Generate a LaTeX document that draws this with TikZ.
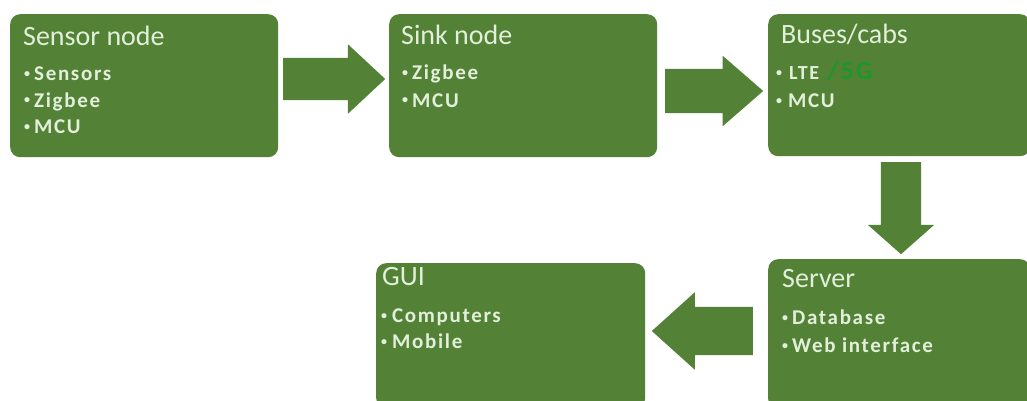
\documentclass[tikz,border=0pt]{standalone}
\usepackage{fontspec}
\setmainfont{Carlito}
\usetikzlibrary{shapes.arrows}
\definecolor{boxgreen}{HTML}{538135}
\definecolor{boxtext}{HTML}{E2EFDA}
\definecolor{fivegreen}{RGB}{30,150,45}

% small raised bullet in front of each list entry
\newcommand{\bulletdot}{\raisebox{3pt}{\fontsize{12}{12}\selectfont\textbullet}\hspace{4pt}}

\begin{document}
\begin{tikzpicture}[x=1pt,y=-1pt,
  panel/.style={fill=boxgreen, draw=none, rounded corners=10pt,
    anchor=north west, inner sep=0pt},
  heading/.style={anchor=base west, inner sep=0pt, text=boxtext,
    font=\fontsize{28}{30}\selectfont},
  item/.style={anchor=base west, inner sep=0pt, text=boxtext,
    font=\fontsize{21}{24}\selectfont\bfseries\addfontfeature{LetterSpace=8}},
  flow/.style={single arrow, fill=boxgreen, draw=none, anchor=tail}
]
\useasboundingbox (0,0) rectangle (1027,401);

% stage boxes
\node[panel, minimum width=268pt, minimum height=143pt] (sensor) at (10,14) {};
\node[panel, minimum width=268pt, minimum height=143pt] (sink)   at (389,14) {};
\node[panel, minimum width=262pt, minimum height=142pt] (bus)    at (768,14) {};
\node[panel, minimum width=262pt, minimum height=150pt] (server) at (768,259) {};
\node[panel, minimum width=269pt, minimum height=145pt] (gui)    at (376,263) {};

% block arrows between the stages
\node[flow, minimum height=102pt, inner sep=21pt,
  single arrow head extend=13.5pt, single arrow tip angle=86] (a1) at (283,79) {};
\node[flow, minimum height=98pt, inner sep=22pt,
  single arrow head extend=13pt, single arrow tip angle=82] (a2) at (665,91) {};
\node[flow, minimum height=92pt, inner sep=20pt, shape border rotate=270,
  single arrow head extend=13pt, single arrow tip angle=97] (a3) at (901,162) {};
\node[flow, minimum height=101pt, inner sep=24pt, shape border rotate=180,
  single arrow head extend=14.5pt, single arrow tip angle=84] (a4) at (753,331) {};

% Sensor node
\node[heading] (sensorT) at (23,46) {Sensor node};
\node[item] (sensorA) at (24,81)  {\bulletdot Sensors};
\node[item] (sensorB) at (24,107) {\bulletdot Zigbee};
\node[item] (sensorC) at (24,133) {\bulletdot MCU};

% Sink node
\node[heading] (sinkT) at (401,45) {Sink node};
\node[item] (sinkA) at (402,80)  {\bulletdot Zigbee};
\node[item] (sinkB) at (402,107) {\bulletdot MCU};

% Buses/cabs
\node[heading] (busT) at (781,44) {Buses/cabs};
\node[item] (busA) at (776,80)
  {\bulletdot\hspace{3pt}{\fontsize{20}{22}\selectfont LTE}\hspace{2pt}
   \textcolor{fivegreen}{\fontsize{26}{28}\selectfont /5G}};
\node[item] (busB) at (776,108) {\bulletdot\hspace{2pt}MCU};

% Server
\node[heading] (serverT) at (782,287) {Server};
\node[item] (serverA) at (782,324) {\bulletdot Database};
\node[item] (serverB) at (782,352) {\bulletdot Web interface};

% GUI
\node[heading] (guiT) at (382,285) {GUI};
\node[item] (guiA) at (381,322) {\bulletdot\hspace{1pt}Computers};
\node[item] (guiB) at (381,348) {\bulletdot\hspace{1pt}Mobile};
\end{tikzpicture}
\end{document}
